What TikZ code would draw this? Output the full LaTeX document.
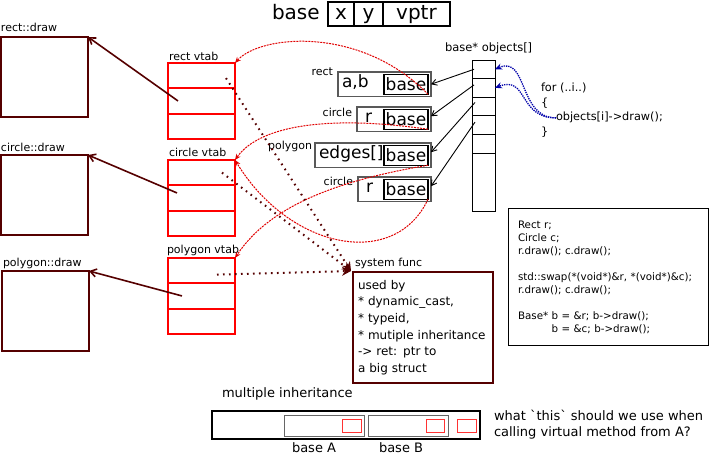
\documentclass[tikz,border=0pt]{standalone}
\usepackage{fontspec}
\setmainfont{DejaVu Sans}
\usetikzlibrary{arrows,arrows.meta,calc,positioning}
\definecolor{darkred}{HTML}{550000}
\definecolor{linkred}{HTML}{E00000}
\definecolor{loopblue}{HTML}{0000AA}
\newcommand{\fsz}[2]{\fontsize{#1}{#2}\selectfont}

\begin{document}
\begin{tikzpicture}[x=1pt,y=-1pt,
  every node/.style={outer sep=0pt},
  lbl/.style={inner sep=0pt,anchor=base west,font=\fsz{11}{12}},
  drawbox/.style={draw=darkred,line width=1.8pt,anchor=north west,minimum width=87,minimum height=80,inner sep=0pt},
  vtabrow/.style={draw=red,line width=2pt,anchor=north west,minimum width=67,minimum height=25.3,inner sep=0pt},
  cell/.style={draw,line width=1.5pt,anchor=north west,minimum height=24,inner sep=0pt,text height=14.5pt,text depth=4pt,font=\fsz{20}{24}},
  objbox/.style={draw=black!65,line width=1.3pt,anchor=north west,minimum height=24.5,inner sep=0pt},
  basebox/.style={draw,line width=1.3pt,anchor=east,minimum width=44,minimum height=20,inner sep=0pt,text height=13pt,text depth=0pt,font=\fsz{17}{20}},
  objtxt/.style={inner sep=0pt,anchor=base west,font=\fsz{17}{20}},
  arrrow/.style={draw,line width=0.8pt,anchor=north west,minimum width=23,minimum height=18.6,inner sep=0pt},
  mibase/.style={draw=black!60,line width=0.8pt,anchor=north west,minimum width=80,minimum height=21,inner sep=0pt},
  vpsmall/.style={draw=red!80,line width=0.8pt,anchor=north west,minimum width=19,minimum height=13,inner sep=0pt},
  fnlink/.style={darkred,line width=1.6pt,-{Straight Barb[length=6pt,width=8pt]}},
  tablink/.style={linkred,line width=1pt,dash pattern=on 2pt off 1pt,-{Stealth[length=6pt,width=5pt]}},
  syslink/.style={darkred,line width=2pt,dash pattern=on 1.6pt off 4.4pt,-{Stealth[length=9pt,width=9pt]}},
  objlink/.style={black,line width=0.9pt,-{Straight Barb[length=5pt,width=6pt]}},
  looplink/.style={loopblue,line width=1.3pt,densely dotted,-{Stealth[length=7pt,width=6pt]}}
]
\useasboundingbox (0,0) rectangle (709,454);

\node[anchor=base west,inner sep=0pt,font=\fsz{20}{24}] (title) at (272,19.5) {base};
\node[cell,minimum width=26] (cellx) at (328,2) {x};
\node[cell,minimum width=29,right=0pt of cellx] (celly) {y};
\node[cell,minimum width=67,right=0pt of celly] (cellvptr) {vptr};

\node[drawbox] (rectdraw) at (1,37) {};
\node[lbl] at (1,32) {rect::draw};
\node[drawbox] (circledraw) at (1,155) {};
\node[lbl] at (1,152) {circle::draw};
\node[drawbox] (polydraw) at (2,271) {};
\node[lbl] at (3,267) {polygon::draw};

\node[vtabrow] (rectvtab1) at (168,63) {};
\node[vtabrow,below=0pt of rectvtab1] (rectvtab2) {};
\node[vtabrow,below=0pt of rectvtab2] (rectvtab3) {};
\node[lbl] at (169,61) {rect vtab};
\node[vtabrow] (circlevtab1) at (168,160) {};
\node[vtabrow,below=0pt of circlevtab1] (circlevtab2) {};
\node[vtabrow,below=0pt of circlevtab2] (circlevtab3) {};
\node[lbl] at (169,157) {circle vtab};
\node[vtabrow] (polyvtab1) at (168,258) {};
\node[vtabrow,below=0pt of polyvtab1] (polyvtab2) {};
\node[vtabrow,below=0pt of polyvtab2] (polyvtab3) {};
\node[lbl] at (167,254) {polygon vtab};

\draw[fnlink] ([xshift=10pt]rectvtab2.west) -- (rectdraw.north east);
\draw[fnlink] ([xshift=9pt,yshift=5pt]circlevtab2.west) -- (circledraw.north east);
\draw[fnlink] ([xshift=14pt]polyvtab2.west) -- (polydraw.north east);

\node[objbox,minimum width=93] (rectobj) at (338,72) {};
\node[basebox] (rectbase) at ([xshift=-3pt]rectobj.east) {base};
\node[objtxt] (recttxt) at (342,88) {a,b};
\node[lbl,anchor=base east] at (333,76) {rect};
\node[objbox,minimum width=74] (circobj1) at (357,107) {};
\node[basebox] (circbase1) at ([xshift=-3pt]circobj1.east) {base};
\node[objtxt] (circtxt1) at (365,123) {r};
\node[lbl,anchor=base east] at (352,117) {circle};
\node[objbox,minimum width=116] (polyobj) at (315,143) {};
\node[basebox] (polybase) at ([xshift=-3pt]polyobj.east) {base};
\node[objtxt] (polytxt) at (319,159) {edges[]};
\node[lbl,anchor=base east] at (312,150) {polygon};
\node[objbox,minimum width=73] (circobj2) at (358,177) {};
\node[basebox] (circbase2) at ([xshift=-3pt]circobj2.east) {base};
\node[objtxt] (circtxt2) at (366,193) {r};
\node[lbl,anchor=base east] at (353,186) {circle};

\node[arrrow] (arr1) at (472,60) {};
\node[arrrow,below=0pt of arr1] (arr2) {};
\node[arrrow,below=0pt of arr2] (arr3) {};
\node[arrrow,below=0pt of arr3] (arr4) {};
\node[arrrow,below=0pt of arr4] (arr5) {};
\node[arrrow,minimum height=58,below=0pt of arr5] (arr6) {};
\node[lbl,font=\fsz{11.5}{13}] at (445,52) {base* objects[]};

\draw[objlink] ([xshift=2pt]arr1.west) -- (rectobj.east);
\draw[objlink] ([xshift=2pt,yshift=3pt]arr2.west) -- ([yshift=3pt]circobj1.east);
\draw[objlink] ([xshift=3pt,yshift=4pt]arr3.west) -- ([yshift=3pt]polyobj.east);
\draw[objlink] ([xshift=3pt,yshift=3pt]arr4.west) -- ([yshift=3pt]circobj2.east);

\node[lbl,font=\fsz{11.3}{13}] (forline) at (541,92) {for (..i..)};
\node[lbl,font=\fsz{11.3}{13}] (openbrace) at (541,107) {\{};
\node[lbl,font=\fsz{11.3}{13}] (call) at (556,121) {objects[i]->draw();};
\node[lbl,font=\fsz{11.3}{13}] (closebrace) at (541,136) {\}};
\draw[looplink] (call.west) .. controls (518,118) and (528,55) .. (arr1.east);
\draw[looplink] (call.west) .. controls (518,118) and (528,75) .. (arr2.east);

\draw[tablink] (rectbase.south east) .. controls (360,25) and (260,35) .. (rectvtab1.north east);
\draw[tablink] (circbase1.south east) .. controls (330,115) and (260,125) .. (circlevtab1.north east);
\draw[tablink] (polybase.south east) .. controls (340,180) and (270,205) .. (polyvtab1.north east);
\draw[tablink] (circbase2.south east) .. controls (395,270) and (290,250) .. (circlevtab1.north east);

\node[draw=darkred,line width=1.4pt,anchor=north west,minimum width=140,minimum height=111,text width=130,inner sep=0pt,align=left,font=\fsz{12}{16.7}] (sysfunc) at (353,272) {used by\\ {*} dynamic\_cast,\\ {*} typeid,\\ {*} mutiple inheritance\\ -> ret: ptr to\\ a big struct};
\node[lbl] at (355,266) {system func};
\coordinate (sysin) at (351,271);
\draw[syslink] ([xshift=-9pt,yshift=-2.5pt]rectvtab1.east) -- (sysin);
\draw[syslink] ([xshift=-13pt]circlevtab1.east) -- (sysin);
\draw[syslink] ([xshift=-18pt,yshift=-4pt]polyvtab1.east) -- (sysin);

\node[draw,line width=1pt,anchor=north west,minimum width=200,minimum height=136,text width=180,inner sep=0pt,align=left,font=\fsz{10.3}{13}] (codebox) at (508,209) {Rect r;\\ Circle c;\\ r.draw(); c.draw();\\[13pt] std::swap(*(void*)\&r, *(void*)\&c);\\ r.draw(); c.draw();\\[13pt] Base* b = \&r; b->draw();\\ \hphantom{Base* }b = \&c; b->draw();};

\node[lbl,font=\fsz{13}{15}] (milbl) at (222,397) {multiple inheritance};
\node[draw,line width=1.3pt,anchor=north west,minimum width=268,minimum height=28,inner sep=0pt] (mibox) at (212,411) {};
\node[mibase] (baseA) at (284,415) {};
\node[mibase] (baseB) at (368,415) {};
\node[vpsmall] (vpA) at (342,419) {};
\node[vpsmall,minimum width=18] (vpB) at (426,419) {};
\node[vpsmall] (vpC) at (457,419) {};
\node[lbl,font=\fsz{13}{15}] at (292,452) {base A};
\node[lbl,font=\fsz{13}{15}] at (379,452) {base B};
\node[lbl,font=\fsz{13}{15}] (question1) at (494,420) {what \textasciigrave this\textasciigrave\ should we use when};
\node[lbl,font=\fsz{13}{15}] (question2) at (494,436) {calling virtual method from A?};
\end{tikzpicture}
\end{document}
